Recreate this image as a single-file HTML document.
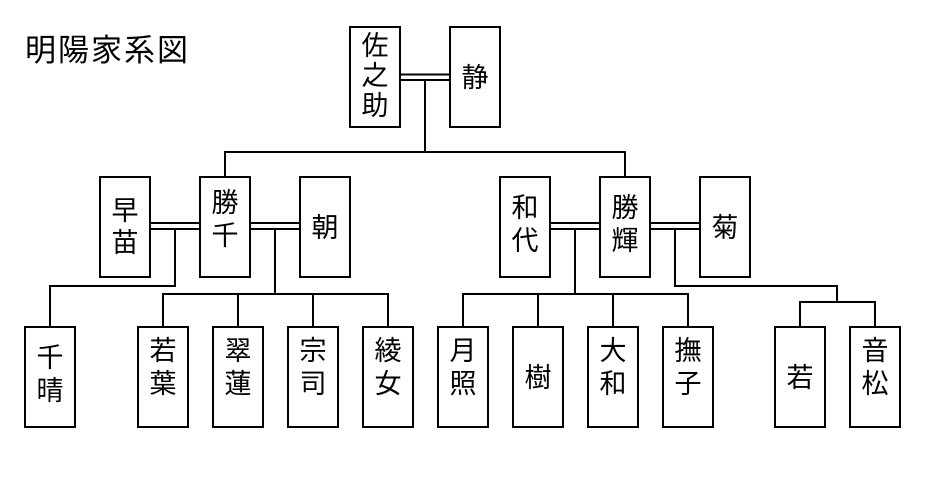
<!DOCTYPE html>
<html><head><meta charset="utf-8"><style>
html,body{margin:0;padding:0;background:#fff;width:925px;height:500px;overflow:hidden}
svg text{font-family:"Liberation Sans","Noto Sans CJK JP",sans-serif;fill:#000}
</style></head><body>
<svg width="925" height="500" viewBox="0 0 925 500" xmlns="http://www.w3.org/2000/svg">
<g stroke="#000" stroke-width="2" fill="none">
<!-- top couple -->
<line x1="400" y1="74.5" x2="450" y2="74.5"/><line x1="400" y1="80" x2="450" y2="80"/>
<polyline points="425,80 425,152 225,152 225,177"/><polyline points="425,152 625,152 625,177"/>
<!-- left couples -->
<line x1="150" y1="223" x2="200" y2="223"/><line x1="150" y1="229" x2="200" y2="229"/>
<line x1="250" y1="223" x2="300" y2="223"/><line x1="250" y1="229" x2="300" y2="229"/>
<polyline points="175,229 175,286 50,286 50,327"/>
<line x1="275" y1="229" x2="275" y2="294"/>
<polyline points="163,327 163,294 388,294 388,327"/>
<line x1="238" y1="294" x2="238" y2="327"/><line x1="313" y1="294" x2="313" y2="327"/>
<!-- right couples -->
<line x1="550" y1="223" x2="600" y2="223"/><line x1="550" y1="229" x2="600" y2="229"/>
<line x1="650" y1="223" x2="700" y2="223"/><line x1="650" y1="229" x2="700" y2="229"/>
<line x1="575" y1="229" x2="575" y2="294"/>
<polyline points="463,327 463,294 688,294 688,327"/>
<line x1="538" y1="294" x2="538" y2="327"/><line x1="613" y1="294" x2="613" y2="327"/>
<polyline points="675,229 675,286 837,286 837,302"/>
<polyline points="800,327 800,302 875,302 875,327"/>
<!-- boxes -->
<rect x="350" y="27" width="50" height="100"/><rect x="450" y="27" width="50" height="100"/>
<rect x="100" y="177" width="50" height="100"/><rect x="200" y="177" width="50" height="100"/><rect x="300" y="177" width="50" height="100"/>
<rect x="500" y="177" width="50" height="100"/><rect x="600" y="177" width="50" height="100"/><rect x="700" y="177" width="50" height="100"/>
<rect x="25" y="327" width="50" height="100"/><rect x="138" y="327" width="50" height="100"/><rect x="213" y="327" width="50" height="100"/><rect x="288" y="327" width="50" height="100"/><rect x="363" y="327" width="50" height="100"/>
<rect x="438" y="327" width="50" height="100"/><rect x="513" y="327" width="50" height="100"/><rect x="588" y="327" width="50" height="100"/><rect x="663" y="327" width="50" height="100"/>
<rect x="775" y="327" width="50" height="100"/><rect x="850" y="327" width="50" height="100"/>
</g>
<text x="25" y="61" font-size="31" letter-spacing="2">明陽家系図</text>
<g font-size="27" text-anchor="middle">
<text x="375" y="55">佐</text><text x="375" y="85">之</text><text x="375" y="115">助</text>
<text x="475" y="87">静</text>
<text x="125" y="220">早</text><text x="125" y="252">苗</text>
<text x="225" y="212">勝</text><text x="225" y="245">千</text>
<text x="325" y="237">朝</text>
<text x="525" y="217">和</text><text x="525" y="250">代</text>
<text x="625" y="217">勝</text><text x="625" y="250">輝</text>
<text x="725" y="237">菊</text>
<text x="50" y="367">千</text><text x="50" y="400">晴</text>
<text x="163" y="360">若</text><text x="163" y="393">葉</text>
<text x="238" y="360">翠</text><text x="238" y="393">蓮</text>
<text x="313" y="360">宗</text><text x="313" y="393">司</text>
<text x="388" y="360">綾</text><text x="388" y="393">女</text>
<text x="463" y="360">月</text><text x="463" y="393">照</text>
<text x="538" y="387">樹</text>
<text x="613" y="360">大</text><text x="613" y="393">和</text>
<text x="688" y="360">撫</text><text x="688" y="393">子</text>
<text x="800" y="387">若</text>
<text x="875" y="360">音</text><text x="875" y="393">松</text>
</g>
</svg>
</body></html>
